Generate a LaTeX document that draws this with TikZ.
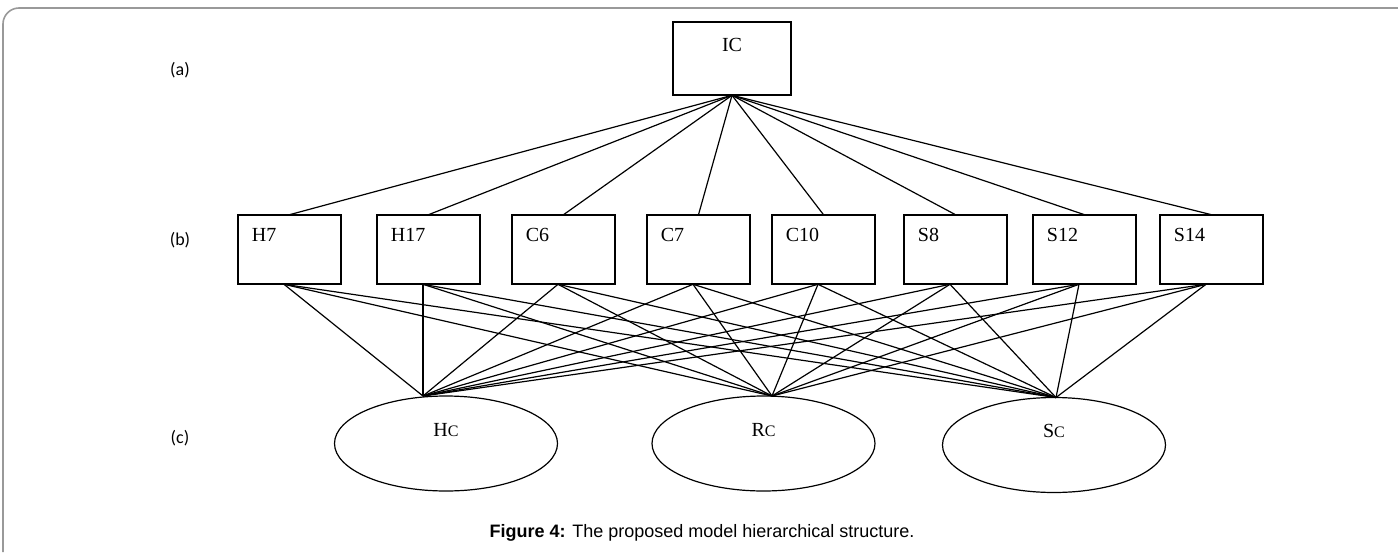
\documentclass[tikz,border=0pt]{standalone}
\usepackage{fontspec}
\setmainfont{Liberation Serif}
\newfontfamily\levelfont{Carlito}
\newfontfamily\captionfont{Liberation Sans}
\usetikzlibrary{shapes.geometric,positioning}

\begin{document}
\begin{tikzpicture}
			[
				x=1pt, y=-1pt,
				transform shape,
				scale=0.5,
				box/.style={draw, line width=0.6pt, minimum width=103pt, minimum height=69pt, inner sep=0pt,
					label={[boxtext]north west:#1}},
				boxtext/.style={anchor=north west, inner sep=0pt, xshift=14pt, yshift=-13.5pt,
					font=\fontsize{20}{24}\selectfont},
				group/.style={draw, ellipse, line width=0.6pt, minimum width=223pt, minimum height=95pt, inner sep=0pt,
					label={[grouptext]north:#1}},
				grouptext/.style={anchor=north, inner sep=0pt, yshift=-27pt, font=\fontsize{20}{24}\selectfont},
				level/.style={draw=none, font=\levelfont\fontsize{18}{21}\selectfont},
				edge/.style={line width=0.6pt}
			]

			% frame and bounding box
			\useasboundingbox (0,0) rectangle (1398,552);
			\draw[black!40, line width=0.8pt, rounded corners=8pt] (3,552) -- (3,8) -- (1398,8);

			% level tags
			\node[level] (la) at ( 180,  70 ) {(a)};
			\node[level] (lb) at ( 180, 240 ) {(b)};
			\node[level] (lc) at ( 180, 438 ) {(c)};

			% goal
			\node[draw, line width=0.6pt, minimum width=118pt, minimum height=73pt,
				label={[boxtext, anchor=north, xshift=-14pt, yshift=-3pt]north:IC}] (ic) at ( 732, 58.5 ) {};

			% criteria
			\node[box=H7]  (h7)  at (  289.5, 249.5 ) {};
			\node[box=H17] (h17) at (  428.5, 249.5 ) {};
			\node[box=C6]  (c6)  at (  563.5, 249.5 ) {};
			\node[box=C7]  (c7)  at (  698.5, 249.5 ) {};
			\node[box=C10] (c10) at (  823.5, 249.5 ) {};
			\node[box=S8]  (s8)  at (  955.5, 249.5 ) {};
			\node[box=S12] (s12) at ( 1084.5, 249.5 ) {};
			\node[box=S14] (s14) at ( 1211.5, 249.5 ) {};

			% alternatives
			\node[group={H{\fontsize{16}{19}\selectfont C}}] (hc) at (  446, 443.5 ) {};
			\node[group={R{\fontsize{16}{19}\selectfont C}}] (rc) at (  763.5, 443.5 ) {};
			\node[group={S{\fontsize{16}{19}\selectfont C}}] (sc) at ( 1054, 445 ) {};
			\coordinate (hct) at (  423, 396 );
			\coordinate (rct) at (  772, 396 );
			\coordinate (sct) at ( 1056, 397.5 );

			% caption
			\node[draw=none, font=\captionfont\fontsize{18}{21}\selectfont] (cap) at ( 702, 533 )
				{\textbf{Figure 4:} The proposed model hierarchical structure.};

			% links
			\foreach \to in {h7,h17,c6,c7,c10,s8,s12,s14}
			\draw[edge] (ic.south) -- (\to.north);

			\foreach \from in {h7,h17,c6,c7,c10,s8,s12,s14}
			\foreach \to in {hct,rct,sct}
			\draw[edge] ([xshift=-5.5pt]\from.south) -- (\to);

		\end{tikzpicture}
\end{document}
